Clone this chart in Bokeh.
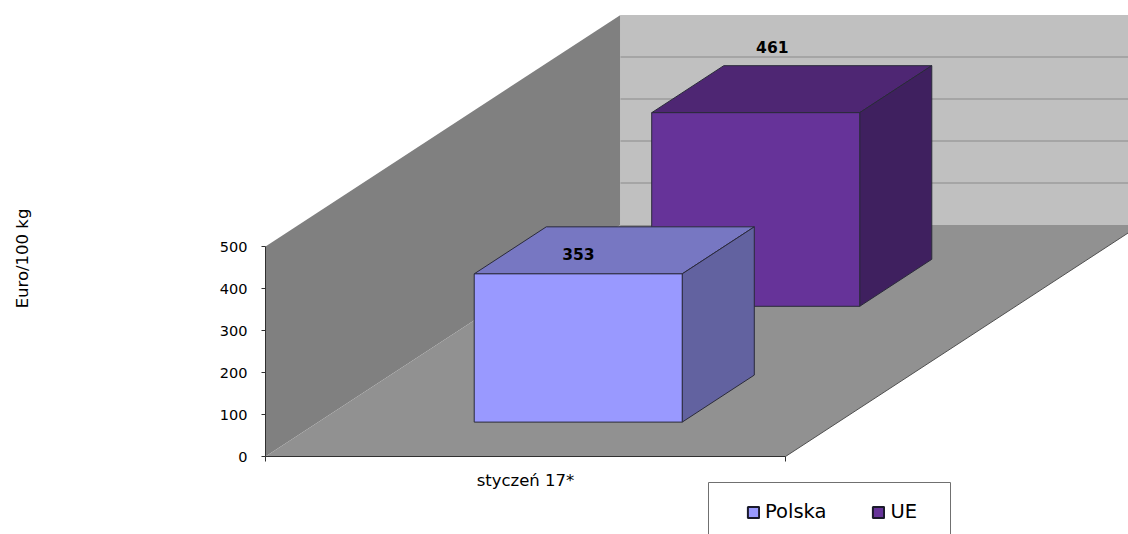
from bokeh.plotting import figure
from bokeh.embed import file_html
from bokeh.resources import INLINE
from bokeh.models import (Range1d, FixedTicker, LinearAxis, Legend, LegendItem, Label)
from bokeh.core.properties import value
import math

# ---- data
series = ["Polska", "UE"]
values = [353, 461]
category = "styczeń 17*"
y_ticks = [0, 100, 200, 300, 400, 500]
grid_ticks = [100, 200, 300, 400]

# ---- style
front = ["#9999FF", "#663399"]
top = ["#7777C2", "#4E2673"]
side = ["#6262A0", "#3F205F"]
wall_left, wall_back, floor, grid_col = "#808080", "#C0C0C0", "#919191", "#9C9C9C"
edge = "#2A2A3A"
comic = "DejaVu Sans"

# ---- oblique projection, in data units (x: category widths, y: value units)
PX_X, PX_Y = 520.0, 0.42          # pixels per category / per value unit
DX, DY = 355 / PX_X, 231.6 / PX_Y # shift of the full depth of the chart
YMAX = 500
BAR_X = (0.30, 0.70)
SLOT_DEPTH = 0.203

def pr(x, v, d):
    return x + DX * d, v + DY * d

def face(points):
    xs, ys = zip(*[pr(*pt) for pt in points])
    return list(xs), list(ys)

# ---- figure: the frame fills the canvas, axes cross at the plot origin
W, H = 1128, 534
ORIGIN_X, ORIGIN_Y = 265, 456     # where value 0 of the first category edge sits on the canvas
p = figure(width=W, height=H, output_backend="svg", toolbar_location=None,
           x_axis_type=None, y_axis_type=None,
           x_range=Range1d(-ORIGIN_X / PX_X, (W - ORIGIN_X) / PX_X),
           y_range=Range1d(-(H - ORIGIN_Y) / PX_Y, ORIGIN_Y / PX_Y),
           min_border_left=0, min_border_bottom=0, min_border_top=0, min_border_right=0,
           background_fill_color="white", border_fill_color="white")
p.outline_line_color = None
p.grid.visible = False

# walls and floor
xs, ys = face([(0, 0, 0), (0, YMAX, 0), (0, YMAX, 1), (0, 0, 1)])
p.patch(xs, ys, fill_color=wall_left, line_color=None)
xs, ys = face([(0, 0, 1), (0, YMAX, 1), (3, YMAX, 1), (3, 0, 1)])
p.patch(xs, ys, fill_color=wall_back, line_color=None)
for g in grid_ticks:
    xs, ys = face([(0, g, 1), (3, g, 1)])
    p.line(xs, ys, line_color=grid_col, line_width=1.5)
xs, ys = face([(0, 0, 0), (1, 0, 0), (1, 0, 1), (0, 0, 1)])
p.patch(xs, ys, fill_color=floor, line_color=None)
xs, ys = face([(1, 0, 0), (1, 0, 1)])
p.line(xs, ys, line_color="#505050", line_width=1)

# bars, back one first
n = len(series)
for i in reversed(range(n)):
    v = values[i]
    d0 = (i + 0.5) / n - SLOT_DEPTH / 2
    d1 = d0 + SLOT_DEPTH
    x0, x1 = BAR_X
    xs, ys = face([(x0, v, d0), (x1, v, d0), (x1, v, d1), (x0, v, d1)])
    p.patch(xs, ys, fill_color=top[i], line_color=edge, line_width=1)
    xs, ys = face([(x1, 0, d0), (x1, v, d0), (x1, v, d1), (x1, 0, d1)])
    p.patch(xs, ys, fill_color=side[i], line_color=edge, line_width=1)
    xs, ys = face([(x0, 0, d0), (x1, 0, d0), (x1, v, d0), (x0, v, d0)])
    p.patch(xs, ys, fill_color=front[i], line_color=edge, line_width=1)

# data labels, placed at (x, depth) above each bar's value
LABEL_POS = [(0.442, 0.234), (0.338, 0.9325)]
lx, ly = [], []
for i, v in enumerate(values):
    a, b = pr(LABEL_POS[i][0], v, LABEL_POS[i][1])
    lx.append(a)
    ly.append(b)
p.text(lx, ly, text=[str(v) for v in values], text_font=value("DejaVu Sans"),
       text_font_style="bold", text_font_size="15.5px", text_color="#000000",
       text_align="center", text_baseline="middle")

# axes
yax = LinearAxis(ticker=FixedTicker(ticks=y_ticks), bounds=(0, YMAX), fixed_location=0)
yax.major_label_text_font = "DejaVu Sans"
yax.major_label_text_font_size = "14.5px"
yax.major_label_text_color = "#000000"
yax.axis_line_color = "#303030"
yax.major_tick_line_color = "#303030"
yax.major_tick_out = 4
yax.major_tick_in = 0
yax.minor_tick_line_color = None
yax.major_label_standoff = 14
p.add_layout(yax, "left")

xax = LinearAxis(ticker=FixedTicker(ticks=[0.5], minor_ticks=[0, 1]), bounds=(0, 1), fixed_location=0)
xax.major_label_overrides = {0.5: category}
xax.major_label_text_font = comic
xax.major_label_text_font_size = "16.5px"
xax.major_label_text_color = "#000000"
xax.axis_line_color = "#303030"
xax.major_tick_line_color = None
xax.minor_tick_line_color = "#303030"
xax.minor_tick_out = 5
xax.minor_tick_in = 0
xax.major_label_standoff = 8
p.add_layout(xax, "below")

# y title
p.add_layout(Label(x=22, y=276, x_units="screen", y_units="screen", text="Euro/100 kg",
                   angle=math.pi / 2, text_font=comic, text_font_size="16.5px",
                   text_align="center", text_baseline="middle", text_color="#000000"))

# legend frame, running off the bottom of the window
BOX = (708, 950, 482)
p.quad(left=(BOX[0] - ORIGIN_X) / PX_X, right=(BOX[1] - ORIGIN_X) / PX_X,
       top=(ORIGIN_Y - BOX[2]) / PX_Y, bottom=(ORIGIN_Y - H - 20) / PX_Y,
       fill_color="white", line_color="#707070", line_width=1)

# legend swatches: off-canvas patches that carry only the key's style
OFF = -1000
swatches = [p.patch([OFF, OFF, OFF], [OFF, OFF, OFF], fill_color=front[i],
                    line_color="#1A1A2A", line_width=2) for i in range(n)]
leg = Legend(items=[LegendItem(label=s, renderers=[swatches[i]]) for i, s in enumerate(series)],
             orientation="horizontal", location=(746, 11), glyph_width=14, glyph_height=14,
             label_standoff=5, spacing=45, padding=0, margin=0,
             label_text_font=comic, label_text_font_size="19.5px", label_text_color="#000000",
             border_line_color=None, background_fill_alpha=0)
p.add_layout(leg, "center")

open("out.html", "w").write(file_html(p, INLINE))
